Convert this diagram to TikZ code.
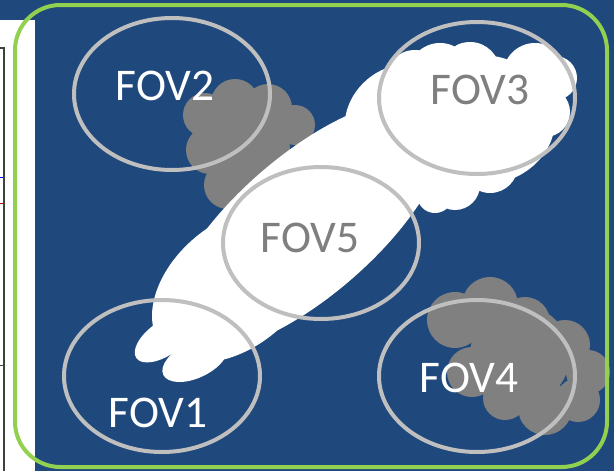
\documentclass[tikz,border=0pt]{standalone}
\usepackage{fontspec}
\setmainfont{Carlito}
\usepackage{tikz}
\usetikzlibrary{shapes.geometric}
\definecolor{fov_blue}{RGB}{31,73,125}
\definecolor{fov_green}{RGB}{146,208,80}
\definecolor{fov_ring}{RGB}{191,191,191}
\definecolor{cloud_gray}{RGB}{128,128,128}
\definecolor{label_gray}{RGB}{127,127,127}
\tikzstyle{fov} = [ellipse, draw=fov_ring, line width=3pt, minimum width=147pt, minimum height=114pt, inner sep=0pt]
\tikzstyle{fovlabel} = [font=\fontsize{34}{40}\selectfont, inner sep=0pt]

\begin{document}
\begin{tikzpicture}[x=0.75pt, y=-0.75pt]
        \useasboundingbox (0,0) rectangle (614,471);
        \fill [fov_blue] (0,0) rectangle (614,471);
        % edge of the neighbouring plot
        \fill [white] (0,20) rectangle (35,471);
        \draw [black!75, line width=1pt] (0,48) -- (4,48) -- (4,471);
        \draw [black!75, line width=0.6pt] (0,365) -- (4,365);
        \draw [blue, line width=0.6pt] (0,177) -- (3,177);
        \draw [red!70!black, line width=0.6pt] (0,203) -- (3,203);
        % thick clouds
        \fill [cloud_gray] (205,115) circle (22) (235,103) circle (24) (268,108) circle (24) (295,125) circle (20)
            (210,150) circle (24) (228,185) circle (24) (250,150) circle (40);
        \fill [cloud_gray] (455,320) circle (28) (490,305) circle (28) (525,322) circle (25) (565,345) circle (25)
            (588,372) circle (22) (578,400) circle (22) (545,408) circle (27) (505,398) circle (22)
            (472,372) circle (25) (520,355) circle (50);
        % thin cloud band
        \fill [white, rotate around={41:(306,226)}] (306,226) ellipse [x radius=175, y radius=70];
        \fill [white, rotate around={40:(235,285)}] (235,285) ellipse [x radius=95, y radius=62];
        \fill [white, rotate around={45:(395,115)}] (395,115) ellipse [x radius=55, y radius=45];
        \fill [white, rotate around={35:(165,338)}] (165,338) ellipse [x radius=35, y radius=17];
        \fill [white, rotate around={25:(195,360)}] (195,360) ellipse [x radius=35, y radius=18];
        \fill [white] (415,80) circle (30) (440,75) circle (32) (470,72) circle (30) (535,75) circle (32)
            (555,78) circle (22) (545,112) circle (25) (515,140) circle (30) (490,165) circle (28)
            (455,185) circle (25) (435,195) circle (18);
        \fill [white] (480,120) ellipse [x radius=75, y radius=65];
        % fields of view
        \node (fov1) [fov] at (162,376) {};
        \node (fov2) [fov] at (172,94) {};
        \node (fov3) [fov] at (477,98) {};
        \node (fov4) [fov] at (477,376) {};
        \node (fov5) [fov] at (321,243) {};
        \node (fov1_label) [fovlabel, text=white] at (158,413) {FOV1};
        \node (fov2_label) [fovlabel, text=white] at (165,86) {FOV2};
        \node (fov3_label) [fovlabel, text=label_gray] at (480,90) {FOV3};
        \node (fov4_label) [fovlabel, text=white] at (469,378) {FOV4};
        \node (fov5_label) [fovlabel, text=label_gray] at (310,238) {FOV5};
        \draw [fov_green, line width=3pt, rounded corners=34pt] (15,5) rectangle (607,467);
\end{tikzpicture}
\end{document}
